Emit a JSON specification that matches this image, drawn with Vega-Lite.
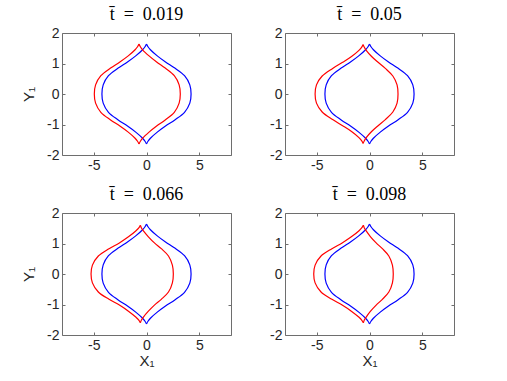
{
"$schema": "https://vega.github.io/schema/vega-lite/v6.json",
"padding": {"left": 21, "top": 5, "right": 0, "bottom": 0},
"bounds": "flush",
"columns": 2,
"spacing": {"row": 58, "column": 54},
"config": {
  "view": {"stroke": "#6e6e6e", "strokeWidth": 1},
  "axis": {"grid": false, "domain": false, "labelFont": "Liberation Sans", "labelFontSize": 14, "labelColor": "#262626", "labelFlush": false, "labelExpr": "replace(datum.label, '\u2212', '-')", "tickColor": "#6e6e6e", "tickSize": -3, "labelPadding": 6, "titleFont": "Liberation Sans", "titleFontSize": 15, "titleFontWeight": "normal", "titleColor": "#262626", "titlePadding": 10}
},
"data": {"values": [
{"t":"all","c":"b","k":"L","x":0,"y":1.64},{"t":"all","c":"b","k":"L","x":-0.14,"y":1.55},{"t":"all","c":"b","k":"L","x":-0.37,"y":1.45},{"t":"all","c":"b","k":"L","x":-1.02,"y":1.25},{"t":"all","c":"b","k":"L","x":-1.8,"y":1.05},{"t":"all","c":"b","k":"L","x":-2.68,"y":0.85},{"t":"all","c":"b","k":"L","x":-3.6,"y":0.6},{"t":"all","c":"b","k":"L","x":-4.1,"y":0.3},{"t":"all","c":"b","k":"L","x":-4.22,"y":0},{"t":"all","c":"b","k":"L","x":-4.1,"y":-0.3},{"t":"all","c":"b","k":"L","x":-3.6,"y":-0.6},{"t":"all","c":"b","k":"L","x":-2.68,"y":-0.85},{"t":"all","c":"b","k":"L","x":-1.8,"y":-1.05},{"t":"all","c":"b","k":"L","x":-1.02,"y":-1.25},{"t":"all","c":"b","k":"L","x":-0.37,"y":-1.45},{"t":"all","c":"b","k":"L","x":-0.14,"y":-1.55},{"t":"all","c":"b","k":"L","x":0,"y":-1.64},
{"t":"all","c":"b","k":"R","x":0,"y":1.64},{"t":"all","c":"b","k":"R","x":0.14,"y":1.55},{"t":"all","c":"b","k":"R","x":0.37,"y":1.45},{"t":"all","c":"b","k":"R","x":1.02,"y":1.25},{"t":"all","c":"b","k":"R","x":1.8,"y":1.05},{"t":"all","c":"b","k":"R","x":2.68,"y":0.85},{"t":"all","c":"b","k":"R","x":3.6,"y":0.6},{"t":"all","c":"b","k":"R","x":4.1,"y":0.3},{"t":"all","c":"b","k":"R","x":4.22,"y":0},{"t":"all","c":"b","k":"R","x":4.1,"y":-0.3},{"t":"all","c":"b","k":"R","x":3.6,"y":-0.6},{"t":"all","c":"b","k":"R","x":2.68,"y":-0.85},{"t":"all","c":"b","k":"R","x":1.8,"y":-1.05},{"t":"all","c":"b","k":"R","x":1.02,"y":-1.25},{"t":"all","c":"b","k":"R","x":0.37,"y":-1.45},{"t":"all","c":"b","k":"R","x":0.14,"y":-1.55},{"t":"all","c":"b","k":"R","x":0,"y":-1.64},

{"t":"1","c":"r","k":"L","x":-0.71,"y":1.64},{"t":"1","c":"r","k":"L","x":-0.85,"y":1.55},{"t":"1","c":"r","k":"L","x":-1.08,"y":1.45},{"t":"1","c":"r","k":"L","x":-1.73,"y":1.25},{"t":"1","c":"r","k":"L","x":-2.52,"y":1.05},{"t":"1","c":"r","k":"L","x":-3.4,"y":0.85},{"t":"1","c":"r","k":"L","x":-4.32,"y":0.6},{"t":"1","c":"r","k":"L","x":-4.82,"y":0.3},{"t":"1","c":"r","k":"L","x":-4.94,"y":0},{"t":"1","c":"r","k":"L","x":-4.82,"y":-0.3},{"t":"1","c":"r","k":"L","x":-4.32,"y":-0.6},{"t":"1","c":"r","k":"L","x":-3.4,"y":-0.85},{"t":"1","c":"r","k":"L","x":-2.52,"y":-1.05},{"t":"1","c":"r","k":"L","x":-1.73,"y":-1.25},{"t":"1","c":"r","k":"L","x":-1.08,"y":-1.45},{"t":"1","c":"r","k":"L","x":-0.85,"y":-1.55},{"t":"1","c":"r","k":"L","x":-0.71,"y":-1.64},
{"t":"1","c":"r","k":"R","x":-0.71,"y":1.64},{"t":"1","c":"r","k":"R","x":-0.58,"y":1.55},{"t":"1","c":"r","k":"R","x":-0.37,"y":1.45},{"t":"1","c":"r","k":"R","x":0.24,"y":1.25},{"t":"1","c":"r","k":"R","x":0.96,"y":1.05},{"t":"1","c":"r","k":"R","x":1.77,"y":0.85},{"t":"1","c":"r","k":"R","x":2.63,"y":0.6},{"t":"1","c":"r","k":"R","x":3.09,"y":0.3},{"t":"1","c":"r","k":"R","x":3.2,"y":0},{"t":"1","c":"r","k":"R","x":3.09,"y":-0.3},{"t":"1","c":"r","k":"R","x":2.63,"y":-0.6},{"t":"1","c":"r","k":"R","x":1.77,"y":-0.85},{"t":"1","c":"r","k":"R","x":0.96,"y":-1.05},{"t":"1","c":"r","k":"R","x":0.24,"y":-1.25},{"t":"1","c":"r","k":"R","x":-0.37,"y":-1.45},{"t":"1","c":"r","k":"R","x":-0.58,"y":-1.55},{"t":"1","c":"r","k":"R","x":-0.71,"y":-1.64},

{"t":"2","c":"r","k":"L","x":-0.6,"y":1.62},{"t":"2","c":"r","k":"L","x":-0.75,"y":1.53},{"t":"2","c":"r","k":"L","x":-1.0,"y":1.43},{"t":"2","c":"r","k":"L","x":-1.7,"y":1.23},{"t":"2","c":"r","k":"L","x":-2.54,"y":1.04},{"t":"2","c":"r","k":"L","x":-3.49,"y":0.84},{"t":"2","c":"r","k":"L","x":-4.48,"y":0.59},{"t":"2","c":"r","k":"L","x":-5.02,"y":0.3},{"t":"2","c":"r","k":"L","x":-5.15,"y":0},{"t":"2","c":"r","k":"L","x":-5.02,"y":-0.3},{"t":"2","c":"r","k":"L","x":-4.48,"y":-0.59},{"t":"2","c":"r","k":"L","x":-3.49,"y":-0.84},{"t":"2","c":"r","k":"L","x":-2.54,"y":-1.04},{"t":"2","c":"r","k":"L","x":-1.7,"y":-1.23},{"t":"2","c":"r","k":"L","x":-1.0,"y":-1.43},{"t":"2","c":"r","k":"L","x":-0.75,"y":-1.53},{"t":"2","c":"r","k":"L","x":-0.6,"y":-1.62},
{"t":"2","c":"r","k":"R","x":-0.6,"y":1.62},{"t":"2","c":"r","k":"R","x":-0.49,"y":1.53},{"t":"2","c":"r","k":"R","x":-0.31,"y":1.43},{"t":"2","c":"r","k":"R","x":0.2,"y":1.23},{"t":"2","c":"r","k":"R","x":0.81,"y":1.04},{"t":"2","c":"r","k":"R","x":1.5,"y":0.84},{"t":"2","c":"r","k":"R","x":2.21,"y":0.59},{"t":"2","c":"r","k":"R","x":2.61,"y":0.3},{"t":"2","c":"r","k":"R","x":2.7,"y":0},{"t":"2","c":"r","k":"R","x":2.61,"y":-0.3},{"t":"2","c":"r","k":"R","x":2.21,"y":-0.59},{"t":"2","c":"r","k":"R","x":1.5,"y":-0.84},{"t":"2","c":"r","k":"R","x":0.81,"y":-1.04},{"t":"2","c":"r","k":"R","x":0.2,"y":-1.23},{"t":"2","c":"r","k":"R","x":-0.31,"y":-1.43},{"t":"2","c":"r","k":"R","x":-0.49,"y":-1.53},{"t":"2","c":"r","k":"R","x":-0.6,"y":-1.62},

{"t":"3","c":"r","k":"L","x":-0.58,"y":1.6},{"t":"3","c":"r","k":"L","x":-0.73,"y":1.51},{"t":"3","c":"r","k":"L","x":-0.99,"y":1.42},{"t":"3","c":"r","k":"L","x":-1.71,"y":1.22},{"t":"3","c":"r","k":"L","x":-2.57,"y":1.02},{"t":"3","c":"r","k":"L","x":-3.55,"y":0.83},{"t":"3","c":"r","k":"L","x":-4.56,"y":0.59},{"t":"3","c":"r","k":"L","x":-5.12,"y":0.29},{"t":"3","c":"r","k":"L","x":-5.25,"y":0},{"t":"3","c":"r","k":"L","x":-5.12,"y":-0.29},{"t":"3","c":"r","k":"L","x":-4.56,"y":-0.59},{"t":"3","c":"r","k":"L","x":-3.55,"y":-0.83},{"t":"3","c":"r","k":"L","x":-2.57,"y":-1.02},{"t":"3","c":"r","k":"L","x":-1.71,"y":-1.22},{"t":"3","c":"r","k":"L","x":-0.99,"y":-1.42},{"t":"3","c":"r","k":"L","x":-0.73,"y":-1.51},{"t":"3","c":"r","k":"L","x":-0.58,"y":-1.6},
{"t":"3","c":"r","k":"R","x":-0.58,"y":1.6},{"t":"3","c":"r","k":"R","x":-0.48,"y":1.51},{"t":"3","c":"r","k":"R","x":-0.31,"y":1.42},{"t":"3","c":"r","k":"R","x":0.18,"y":1.22},{"t":"3","c":"r","k":"R","x":0.75,"y":1.02},{"t":"3","c":"r","k":"R","x":1.4,"y":0.83},{"t":"3","c":"r","k":"R","x":2.08,"y":0.59},{"t":"3","c":"r","k":"R","x":2.45,"y":0.29},{"t":"3","c":"r","k":"R","x":2.54,"y":0},{"t":"3","c":"r","k":"R","x":2.45,"y":-0.29},{"t":"3","c":"r","k":"R","x":2.08,"y":-0.59},{"t":"3","c":"r","k":"R","x":1.4,"y":-0.83},{"t":"3","c":"r","k":"R","x":0.75,"y":-1.02},{"t":"3","c":"r","k":"R","x":0.18,"y":-1.22},{"t":"3","c":"r","k":"R","x":-0.31,"y":-1.42},{"t":"3","c":"r","k":"R","x":-0.48,"y":-1.51},{"t":"3","c":"r","k":"R","x":-0.58,"y":-1.6},

{"t":"4","c":"r","k":"L","x":-0.58,"y":1.6},{"t":"4","c":"r","k":"L","x":-0.74,"y":1.51},{"t":"4","c":"r","k":"L","x":-0.99,"y":1.42},{"t":"4","c":"r","k":"L","x":-1.72,"y":1.22},{"t":"4","c":"r","k":"L","x":-2.59,"y":1.02},{"t":"4","c":"r","k":"L","x":-3.56,"y":0.83},{"t":"4","c":"r","k":"L","x":-4.59,"y":0.59},{"t":"4","c":"r","k":"L","x":-5.15,"y":0.29},{"t":"4","c":"r","k":"L","x":-5.28,"y":0},{"t":"4","c":"r","k":"L","x":-5.15,"y":-0.29},{"t":"4","c":"r","k":"L","x":-4.59,"y":-0.59},{"t":"4","c":"r","k":"L","x":-3.56,"y":-0.83},{"t":"4","c":"r","k":"L","x":-2.59,"y":-1.02},{"t":"4","c":"r","k":"L","x":-1.72,"y":-1.22},{"t":"4","c":"r","k":"L","x":-0.99,"y":-1.42},{"t":"4","c":"r","k":"L","x":-0.74,"y":-1.51},{"t":"4","c":"r","k":"L","x":-0.58,"y":-1.6},
{"t":"4","c":"r","k":"R","x":-0.58,"y":1.6},{"t":"4","c":"r","k":"R","x":-0.49,"y":1.51},{"t":"4","c":"r","k":"R","x":-0.33,"y":1.42},{"t":"4","c":"r","k":"R","x":0.1,"y":1.22},{"t":"4","c":"r","k":"R","x":0.63,"y":1.02},{"t":"4","c":"r","k":"R","x":1.22,"y":0.83},{"t":"4","c":"r","k":"R","x":1.83,"y":0.59},{"t":"4","c":"r","k":"R","x":2.17,"y":0.29},{"t":"4","c":"r","k":"R","x":2.25,"y":0},{"t":"4","c":"r","k":"R","x":2.17,"y":-0.29},{"t":"4","c":"r","k":"R","x":1.83,"y":-0.59},{"t":"4","c":"r","k":"R","x":1.22,"y":-0.83},{"t":"4","c":"r","k":"R","x":0.63,"y":-1.02},{"t":"4","c":"r","k":"R","x":0.1,"y":-1.22},{"t":"4","c":"r","k":"R","x":-0.33,"y":-1.42},{"t":"4","c":"r","k":"R","x":-0.49,"y":-1.51},{"t":"4","c":"r","k":"R","x":-0.58,"y":-1.6}
]},
"concat": [
  {"width": 169, "height": 122, "title": {"text": "t\u0304\u2002=\u20020.019", "font": "Liberation Serif, Times New Roman, serif", "fontSize": 18, "fontWeight": 400, "color": "#000000", "frame": "group", "offset": 2},
   "transform": [{"filter": "datum.t == '1' || datum.t == 'all'"}],
   "resolve": {"axis": {"x": "independent", "y": "independent"}},
   "layer": [
    {"mark": {"type": "line", "interpolate": "catmull-rom", "strokeWidth": 1.2},
     "encoding": {
      "x": {"field": "x", "type": "quantitative", "scale": {"domain": [-8, 8]}, "axis": {"values": [-5, 0, 5], "title": null}},
      "y": {"field": "y", "type": "quantitative", "scale": {"domain": [-2, 2]}, "axis": {"values": [-2, -1, 0, 1, 2], "title": "Y\u2081"}},
      "color": {"field": "c", "type": "nominal", "scale": {"domain": ["r", "b"], "range": ["#ff0000", "#0000ff"]}, "legend": null},
      "detail": {"field": "k"},
      "order": {"field": "y", "sort": "descending"}}},
    {"mark": {"type": "point", "opacity": 0},
     "encoding": {
      "x": {"field": "x", "type": "quantitative", "axis": {"orient": "top", "values": [-5, 0, 5], "labels": false, "title": null}},
      "y": {"field": "y", "type": "quantitative", "axis": {"orient": "right", "values": [-2, -1, 0, 1, 2], "labels": false, "title": null}}}}
   ]},
  {"width": 169, "height": 122, "title": {"text": "t\u0304\u2002=\u20020.05", "font": "Liberation Serif, Times New Roman, serif", "fontSize": 18, "fontWeight": 400, "color": "#000000", "frame": "group", "offset": 2},
   "transform": [{"filter": "datum.t == '2' || datum.t == 'all'"}],
   "resolve": {"axis": {"x": "independent", "y": "independent"}},
   "layer": [
    {"mark": {"type": "line", "interpolate": "catmull-rom", "strokeWidth": 1.2},
     "encoding": {
      "x": {"field": "x", "type": "quantitative", "scale": {"domain": [-8, 8]}, "axis": {"values": [-5, 0, 5], "title": null}},
      "y": {"field": "y", "type": "quantitative", "scale": {"domain": [-2, 2]}, "axis": {"values": [-2, -1, 0, 1, 2], "title": null}},
      "color": {"field": "c", "type": "nominal", "scale": {"domain": ["r", "b"], "range": ["#ff0000", "#0000ff"]}, "legend": null},
      "detail": {"field": "k"},
      "order": {"field": "y", "sort": "descending"}}},
    {"mark": {"type": "point", "opacity": 0},
     "encoding": {
      "x": {"field": "x", "type": "quantitative", "axis": {"orient": "top", "values": [-5, 0, 5], "labels": false, "title": null}},
      "y": {"field": "y", "type": "quantitative", "axis": {"orient": "right", "values": [-2, -1, 0, 1, 2], "labels": false, "title": null}}}}
   ]},
  {"width": 169, "height": 122, "title": {"text": "t\u0304\u2002=\u20020.066", "font": "Liberation Serif, Times New Roman, serif", "fontSize": 18, "fontWeight": 400, "color": "#000000", "frame": "group", "offset": 2},
   "transform": [{"filter": "datum.t == '3' || datum.t == 'all'"}],
   "resolve": {"axis": {"x": "independent", "y": "independent"}},
   "layer": [
    {"mark": {"type": "line", "interpolate": "catmull-rom", "strokeWidth": 1.2},
     "encoding": {
      "x": {"field": "x", "type": "quantitative", "scale": {"domain": [-8, 8]}, "axis": {"values": [-5, 0, 5], "title": "X\u2081", "titlePadding": 1}},
      "y": {"field": "y", "type": "quantitative", "scale": {"domain": [-2, 2]}, "axis": {"values": [-2, -1, 0, 1, 2], "title": "Y\u2081"}},
      "color": {"field": "c", "type": "nominal", "scale": {"domain": ["r", "b"], "range": ["#ff0000", "#0000ff"]}, "legend": null},
      "detail": {"field": "k"},
      "order": {"field": "y", "sort": "descending"}}},
    {"mark": {"type": "point", "opacity": 0},
     "encoding": {
      "x": {"field": "x", "type": "quantitative", "axis": {"orient": "top", "values": [-5, 0, 5], "labels": false, "title": null}},
      "y": {"field": "y", "type": "quantitative", "axis": {"orient": "right", "values": [-2, -1, 0, 1, 2], "labels": false, "title": null}}}}
   ]},
  {"width": 169, "height": 122, "title": {"text": "t\u0304\u2002=\u20020.098", "font": "Liberation Serif, Times New Roman, serif", "fontSize": 18, "fontWeight": 400, "color": "#000000", "frame": "group", "offset": 2},
   "transform": [{"filter": "datum.t == '4' || datum.t == 'all'"}],
   "resolve": {"axis": {"x": "independent", "y": "independent"}},
   "layer": [
    {"mark": {"type": "line", "interpolate": "catmull-rom", "strokeWidth": 1.2},
     "encoding": {
      "x": {"field": "x", "type": "quantitative", "scale": {"domain": [-8, 8]}, "axis": {"values": [-5, 0, 5], "title": "X\u2081", "titlePadding": 1}},
      "y": {"field": "y", "type": "quantitative", "scale": {"domain": [-2, 2]}, "axis": {"values": [-2, -1, 0, 1, 2], "title": null}},
      "color": {"field": "c", "type": "nominal", "scale": {"domain": ["r", "b"], "range": ["#ff0000", "#0000ff"]}, "legend": null},
      "detail": {"field": "k"},
      "order": {"field": "y", "sort": "descending"}}},
    {"mark": {"type": "point", "opacity": 0},
     "encoding": {
      "x": {"field": "x", "type": "quantitative", "axis": {"orient": "top", "values": [-5, 0, 5], "labels": false, "title": null}},
      "y": {"field": "y", "type": "quantitative", "axis": {"orient": "right", "values": [-2, -1, 0, 1, 2], "labels": false, "title": null}}}}
   ]}
]
}
